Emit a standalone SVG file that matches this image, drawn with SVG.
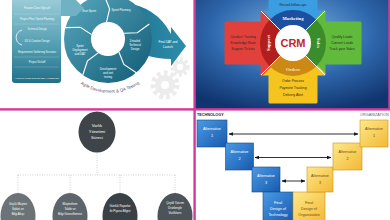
<svg xmlns="http://www.w3.org/2000/svg" width="390" height="220" viewBox="0 0 390 220">
<defs>
<linearGradient id="gBox" x1="0" y1="0" x2="0" y2="1"><stop offset="0" stop-color="#9fcfda"/><stop offset="0.6" stop-color="#4f9bb0"/><stop offset="1" stop-color="#236f88"/></linearGradient>
<linearGradient id="gRing" x1="0" y1="0" x2="1" y2="1"><stop offset="0" stop-color="#4d9db3"/><stop offset="1" stop-color="#1c6680"/></linearGradient>
<linearGradient id="gArrow" x1="0" y1="0" x2="1" y2="0"><stop offset="0" stop-color="#1f7590"/><stop offset="1" stop-color="#2d8cab"/></linearGradient>
<radialGradient id="gBlue" cx="0.5" cy="0.3" r="0.75"><stop offset="0" stop-color="#7db3e3"/><stop offset="0.55" stop-color="#2f68ad"/><stop offset="1" stop-color="#10346e"/></radialGradient>
<linearGradient id="gB" x1="0" y1="0" x2="1" y2="1"><stop offset="0" stop-color="#4a9be6"/><stop offset="1" stop-color="#1859ad"/></linearGradient>
<linearGradient id="gY" x1="0" y1="0" x2="1" y2="1"><stop offset="0" stop-color="#fee88a"/><stop offset="1" stop-color="#f2b934"/></linearGradient>
<marker id="ah" viewBox="0 0 10 10" refX="9" refY="5" markerWidth="5" markerHeight="5" orient="auto-start-reverse"><path d="M0,1 L10,5 L0,9 Z" fill="#1a1a1a"/></marker>
</defs>
<style>
text{font-family:"Liberation Sans",Arial,sans-serif;text-anchor:middle}
.tw{fill:#fff;font-size:2.8px}
.tb{fill:#f2fafc;font-size:2.6px}
.crm{fill:#2a2a2a;font-size:3.4px}
.rl{fill:#fff;font-size:4.6px;font-weight:bold;font-family:"Liberation Serif",serif}
.el{fill:#fff;font-size:2.9px}
.alt{fill:#fff;font-size:3.8px}
.alty{fill:#6e4c0e;font-size:3.8px}
.dot{stroke:#b5b5b5;stroke-width:0.8;stroke-dasharray:0.8 1.6;fill:none}
.sep{stroke:#fff;stroke-width:1.1;fill:none}
.dbl{stroke:#1a1a1a;stroke-width:0.9;marker-start:url(#ah);marker-end:url(#ah)}
</style>
<rect width="390" height="220" fill="#fff"/>

<!-- Top-left: agile process -->
<g id="agile">
  <g id="gears" fill="none" stroke="#ececec">
    <circle cx="165" cy="85" r="11" stroke-width="7" stroke-dasharray="3.5 2.8"/>
    <circle cx="165" cy="85" r="7" stroke-width="6"/>
    <circle cx="180" cy="67" r="7.5" stroke-width="4.5" stroke-dasharray="2.8 2.2"/>
    <circle cx="180" cy="67" r="5" stroke-width="3.5"/>
  </g>
  <path id="bigArrow" d="M124,3 Q156,6 171,34 L171,27 L186,46 L171,66 L171,59 Q158,59 145,55 Z" fill="url(#gArrow)"/>
  <g id="ring">
    <circle cx="108" cy="39" r="30.5" fill="none" stroke="url(#gRing)" stroke-width="27"/>
    <polyline class="sep" points="106.5,22.1 109.6,9 104.2,-4.8"/>
    <polyline class="sep" points="124,33.2 137.3,32.8 149.3,24"/>
    <polyline class="sep" points="118.9,52 123.9,64.4 136.3,72.7"/>
    <polyline class="sep" points="98.2,52.9 87.5,60.9 82.8,75"/>
    <polyline class="sep" points="91.6,34.6 80.4,27.3 65.5,27.6"/>
    <text class="tw" x="89" y="12">Start Sprint</text>
    <text class="tw" x="121" y="11">Sprint Planning</text>
    <text class="tw" x="135" y="42">Detailed</text>
    <text class="tw" x="135" y="46">Technical</text>
    <text class="tw" x="135" y="50">Design</text>
    <text class="tw" x="108" y="70">Development</text>
    <text class="tw" x="108" y="74">and unit</text>
    <text class="tw" x="108" y="78">testing</text>
    <text class="tw" x="80" y="47">Sprint</text>
    <text class="tw" x="80" y="51">Deployment</text>
    <text class="tw" x="80" y="55">and UAT</text>
  </g>
  <text class="tw" x="168" y="43" style="font-size:3px">Final UAT and</text>
  <text class="tw" x="168" y="48" style="font-size:3px">Launch</text>
  <path id="arcPath" d="M70,74 A52,52 0 0 0 150,74" fill="none"/>
  <text style="font-size:4.3px;fill:#555"><textPath href="#arcPath" startOffset="50%">Agile Development &amp; QA Testing</textPath></text>
  <g id="discovery">
    <path d="M40,0 L76,0 L84,8 L76,16 L40,16 Z" fill="#6fb2c4"/>
    <rect x="12" y="-4" width="49" height="87" rx="3" fill="url(#gBox)"/>
    <g stroke="#ffffff" stroke-opacity="0.35" stroke-width="0.5">
      <line x1="14" y1="14" x2="59" y2="14"/><line x1="14" y1="24" x2="59" y2="24"/>
      <line x1="14" y1="57" x2="59" y2="57"/><line x1="14" y1="67" x2="59" y2="67"/>
    </g>
    <path d="M22,30 A9,8 0 0 0 22,45" fill="none" stroke="#d7eef3" stroke-width="1"/>
    <text class="tb" x="37" y="9">Feature Close Sign-off</text>
    <text class="tb" x="37" y="20">Project Plan / Sprint Planning</text>
    <text class="tb" x="37" y="30">Technical Design</text>
    <text class="tb" x="37" y="42">UX &amp; Creative Design</text>
    <text class="tb" x="37" y="53">Requirement Gathering Sessions</text>
    <text class="tb" x="37" y="63">Project Kickoff</text>
    <text class="tb" x="37" y="79" style="font-size:2.5px">APPLICATION DISCOVERY &amp; DESIGN</text>
  </g>
</g>

<!-- Top-right: CRM -->
<g id="crm">
  <rect x="195" y="0" width="195" height="109" fill="url(#gBlue)"/>
  <g stroke-linejoin="round" stroke-width="3">
    <polygon points="293,43 262,12 270,12 270,-3 316,-3 316,12 324,12" fill="#3b9de2" stroke="#3b9de2"/>
    <polygon points="293,43 324,12 324,23 360,23 360,63 324,63 324,74" fill="#62ba3c" stroke="#62ba3c"/>
    <polygon points="293,43 324,74 316,74 316,102 270,102 270,74 262,74" fill="#f5c41e" stroke="#f5c41e"/>
    <polygon points="293,43 262,74 262,63 226,63 226,23 262,23 262,12" fill="#e2413b" stroke="#e2413b"/>
  </g>
  <g fill="none" stroke-width="15">
    <path d="M274.97,24.97 A25.5,25.5 0 0 1 311.03,24.97" stroke="#1c4f9f"/>
    <path d="M311.03,24.97 A25.5,25.5 0 0 1 311.03,61.03" stroke="#3b8c2a"/>
    <path d="M311.03,61.03 A25.5,25.5 0 0 1 274.97,61.03" stroke="#cc8a14"/>
    <path d="M274.97,61.03 A25.5,25.5 0 0 1 274.97,24.97" stroke="#b21d1d"/>
  </g>
  <g stroke="#fff" stroke-width="1">
    <line x1="293" y1="43" x2="261" y2="11"/><line x1="293" y1="43" x2="325" y2="11"/>
    <line x1="293" y1="43" x2="325" y2="75"/><line x1="293" y1="43" x2="261" y2="75"/>
  </g>
  <circle cx="293" cy="43" r="18" fill="#fff"/>
  <text x="293" y="47" style="font-size:11px;font-weight:bold;fill:#c4242a">CRM</text>
  <text class="rl" x="293" y="19.5">Marketing</text>
  <text class="rl" x="293" y="70.5" style="fill:#fbe7b0">Orders</text>
  <text class="rl" transform="translate(316.5,43) rotate(90)">Sales</text>
  <text class="rl" transform="translate(269.5,43) rotate(-90)">Support</text>
  <text class="crm" x="293" y="6">Record follow-ups</text>
  <text class="crm" x="243" y="38">Conduct Training</text>
  <text class="crm" x="243" y="44">Knowledge Base</text>
  <text class="crm" x="243" y="50">Support Tickets</text>
  <text class="crm" x="342" y="38">Qualify Leads</text>
  <text class="crm" x="342" y="44">Convert Leads</text>
  <text class="crm" x="342" y="50">Track your Sales</text>
  <text class="crm" x="293" y="82">Order Process</text>
  <text class="crm" x="293" y="89">Payment Tracking</text>
  <text class="crm" x="293" y="96">Delivery Alert</text>
</g>

<!-- Bottom-left: asset management tree -->
<g id="connectors">
  <path class="dot" d="M97,153 V175 M18,175 H175 M18,175 V193 M70,175 V193 M120,175 V193 M175,175 V193"/>
  <line class="dbl" x1="229" y1="134" x2="358" y2="134"/>
  <line class="dbl" x1="255" y1="157.5" x2="331" y2="157.5"/>
  <line class="dbl" x1="282" y1="181" x2="305" y2="181"/>
</g>
<g id="root">
  <ellipse cx="97" cy="132" rx="18.5" ry="20.5" fill="#3e4448"/>
  <text class="el" x="97" y="127" style="font-size:4.2px">Varlık</text>
  <text class="el" x="97" y="133" style="font-size:4.2px">Yönetimi</text>
  <text class="el" x="97" y="139" style="font-size:4.2px">Süreci</text>
</g>
<g id="leaf1">
  <ellipse cx="18" cy="216" rx="17.5" ry="23" fill="#6b7378"/>
  <text class="el" x="18" y="205">Güçlü Müşteri</text>
  <text class="el" x="18" y="210">İlişkisi ve</text>
  <text class="el" x="18" y="215">Bilgi Akışı</text>
</g>
<g id="leaf2">
  <ellipse cx="70" cy="216" rx="17.5" ry="23" fill="#5d656a"/>
  <text class="el" x="70" y="205">Müşterilerin</text>
  <text class="el" x="70" y="210">Takibi ve</text>
  <text class="el" x="70" y="215">Bilgi Güncellemesi</text>
</g>
<g id="leaf3">
  <ellipse cx="120" cy="216" rx="17.5" ry="23" fill="#3a4146"/>
  <text class="el" x="120" y="207">Günlük Raporlar</text>
  <text class="el" x="120" y="212">ile Piyasa Bilgisi</text>
</g>
<g id="leaf4">
  <ellipse cx="175" cy="216" rx="17.5" ry="23" fill="#4c5459"/>
  <text class="el" x="175" y="204">Çeşitli Yatırım</text>
  <text class="el" x="175" y="209">Ürünleriyle</text>
  <text class="el" x="175" y="214">Varlıkların</text>
</g>

<!-- Bottom-right: alternatives -->
<text x="197" y="116" style="font-size:3.8px;font-weight:bold;fill:#222;text-anchor:start">TECHNOLOGY</text>
<text x="360" y="116" style="font-size:3.8px;fill:#666;text-anchor:start">ORGANIZATION</text>
<g id="t1"><rect x="197" y="120" width="30" height="27" fill="url(#gB)" stroke="#134a8e" stroke-width="0.6"/><text class="alt" x="212" y="130">Alternative</text><text class="alt" x="212" y="137">1</text></g>
<g id="t2"><rect x="225.5" y="143" width="28" height="27" fill="url(#gB)" stroke="#134a8e" stroke-width="0.6"/><text class="alt" x="239.5" y="153">Alternative</text><text class="alt" x="239.5" y="160">2</text></g>
<g id="t3"><rect x="252" y="167" width="28" height="25" fill="url(#gB)" stroke="#134a8e" stroke-width="0.6"/><text class="alt" x="266" y="177">Alternative</text><text class="alt" x="266" y="184">3</text></g>
<g id="tf"><rect x="263" y="192" width="30" height="30" fill="url(#gB)" stroke="#134a8e" stroke-width="0.6"/><text class="alt" x="278" y="204">Final</text><text class="alt" x="278" y="210">Design of</text><text class="alt" x="278" y="216">Technology</text></g>
<g id="of"><rect x="293" y="192" width="32" height="30" fill="url(#gY)" stroke="#c99420" stroke-width="0.6"/><text class="alty" x="309" y="204">Final</text><text class="alty" x="309" y="210">Design of</text><text class="alty" x="309" y="216">Organization</text></g>
<g id="o3"><rect x="307" y="167" width="26" height="25" fill="url(#gY)" stroke="#c99420" stroke-width="0.6"/><text class="alty" x="320" y="177">Alternative</text><text class="alty" x="320" y="184">3</text></g>
<g id="o2"><rect x="333" y="143" width="29" height="27" fill="url(#gY)" stroke="#c99420" stroke-width="0.6"/><text class="alty" x="347.5" y="153">Alternative</text><text class="alty" x="347.5" y="160">2</text></g>
<g id="o1"><rect x="360" y="120" width="28" height="27" fill="url(#gY)" stroke="#c99420" stroke-width="0.6"/><text class="alty" x="374" y="130">Alternative</text><text class="alty" x="374" y="137">1</text></g>

<!-- magenta grid -->
<g fill="#d6399c">
  <rect x="0" y="108.2" width="390" height="2.4"/>
  <rect x="193.4" y="0" width="2.4" height="220"/>
  <rect x="388.3" y="0" width="1.7" height="109"/>
</g>
</svg>
